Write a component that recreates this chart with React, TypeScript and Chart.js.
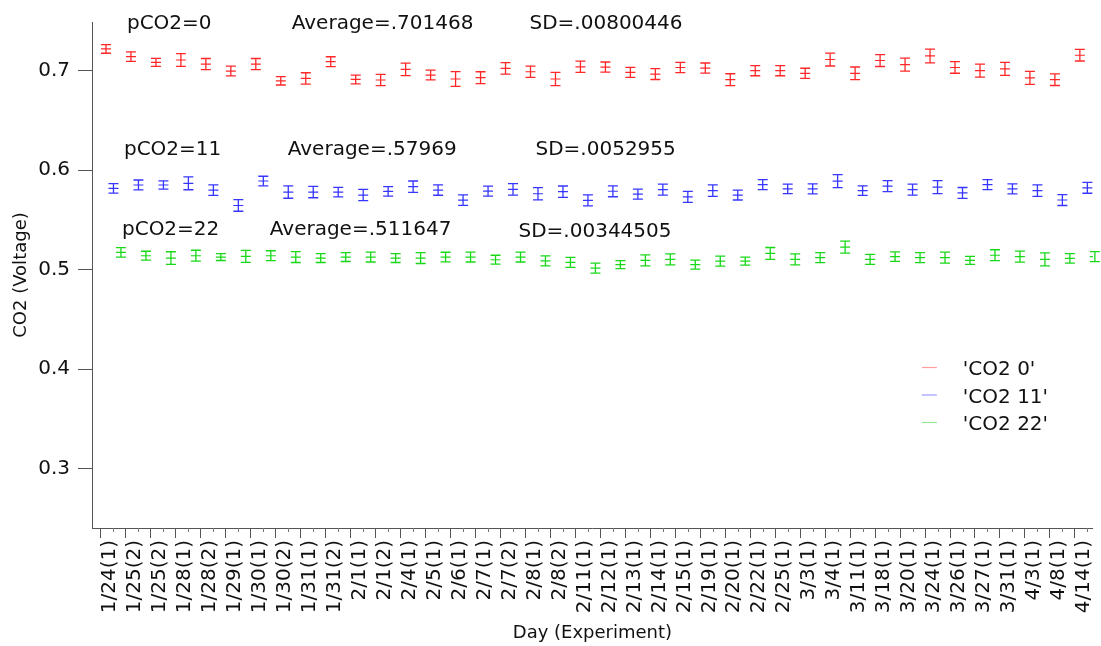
import React, { useEffect, useRef } from 'react';
import { Chart, registerables } from 'chart.js';

Chart.register(...registerables);

const FONT = '"DejaVu Sans", "Liberation Sans", sans-serif';

// ---- data ----
const categories = [
  '1/24(1)', '1/25(2)', '1/25(2)', '1/28(1)', '1/28(2)', '1/29(1)', '1/30(1)', '1/30(2)', '1/31(1)', '1/31(2)',
  '2/1(1)', '2/1(2)', '2/4(1)', '2/5(1)', '2/6(1)', '2/7(1)', '2/7(2)', '2/8(1)', '2/8(2)', '2/11(1)',
  '2/12(1)', '2/13(1)', '2/14(1)', '2/15(1)', '2/19(1)', '2/20(1)', '2/22(1)', '2/25(1)', '3/3(1)', '3/4(1)',
  '3/11(1)', '3/18(1)', '3/20(1)', '3/24(1)', '3/26(1)', '3/27(1)', '3/31(1)', '4/3(1)', '4/8(1)', '4/14(1)',
];

const co2_0 = [
  0.7219, 0.7142, 0.7085, 0.7108, 0.7067, 0.6997, 0.7067, 0.6899, 0.6923, 0.7091,
  0.6913, 0.6907, 0.7014, 0.6957, 0.6917, 0.6930, 0.7024, 0.6990, 0.6917, 0.7040,
  0.7037, 0.6984, 0.6967, 0.7033, 0.7027, 0.6910, 0.7001, 0.7001, 0.6974, 0.7113,
  0.6974, 0.7103, 0.7061, 0.7149, 0.7033, 0.7001, 0.7019, 0.6928, 0.6910, 0.7156,
];
const co2_0_err = [
  0.0043, 0.0047, 0.0040, 0.0064, 0.0056, 0.0049, 0.0056, 0.0042, 0.0057, 0.0050,
  0.0044, 0.0057, 0.0062, 0.0049, 0.0074, 0.0060, 0.0057, 0.0057, 0.0066, 0.0057,
  0.0051, 0.0051, 0.0055, 0.0051, 0.0051, 0.0060, 0.0051, 0.0051, 0.0051, 0.0065,
  0.0064, 0.0060, 0.0065, 0.0069, 0.0058, 0.0065, 0.0065, 0.0065, 0.0058, 0.0058,
];

const co2_11 = [
  0.5818, 0.5852, 0.5852, 0.5869, 0.5801, 0.5646, 0.5892, 0.5781, 0.5781, 0.5781,
  0.5751, 0.5788, 0.5835, 0.5801, 0.5700, 0.5791, 0.5808, 0.5764, 0.5785, 0.5698,
  0.5789, 0.5761, 0.5806, 0.5733, 0.5796, 0.5751, 0.5856, 0.5813, 0.5813, 0.5891,
  0.5796, 0.5841, 0.5806, 0.5831, 0.5772, 0.5856, 0.5813, 0.5796, 0.5701, 0.5824,
];
const co2_11_err = [
  0.0048, 0.0050, 0.0042, 0.0065, 0.0053, 0.0058, 0.0048, 0.0062, 0.0057, 0.0048,
  0.0057, 0.0048, 0.0057, 0.0052, 0.0052, 0.0050, 0.0057, 0.0062, 0.0057, 0.0055,
  0.0055, 0.0050, 0.0055, 0.0055, 0.0058, 0.0050, 0.0050, 0.0048, 0.0050, 0.0065,
  0.0048, 0.0055, 0.0055, 0.0065, 0.0055, 0.0050, 0.0050, 0.0058, 0.0055, 0.0055,
];

const co2_22 = [
  0.5175, 0.5141, 0.5118, 0.5141, 0.5128, 0.5135, 0.5141, 0.5128, 0.5118, 0.5128,
  0.5128, 0.5118, 0.5118, 0.5128, 0.5128, 0.5101, 0.5128, 0.5090, 0.5075, 0.5017,
  0.5052, 0.5094, 0.5104, 0.5052, 0.5087, 0.5087, 0.5164, 0.5104, 0.5122, 0.5227,
  0.5104, 0.5132, 0.5122, 0.5122, 0.5094, 0.5146, 0.5132, 0.5104, 0.5115, 0.5132,
];
const co2_22_err = [
  0.0048, 0.0045, 0.0063, 0.0055, 0.0035, 0.0060, 0.0050, 0.0055, 0.0045, 0.0045,
  0.0050, 0.0045, 0.0055, 0.0048, 0.0050, 0.0045, 0.0050, 0.0050, 0.0050, 0.0050,
  0.0040, 0.0055, 0.0055, 0.0045, 0.0050, 0.0040, 0.0060, 0.0055, 0.0050, 0.0060,
  0.0050, 0.0048, 0.0050, 0.0055, 0.0040, 0.0055, 0.0055, 0.0065, 0.0048, 0.0050,
];

const seriesLabels = ["'CO2 0'", "'CO2 11'", "'CO2 22'"];
const groupNames = ['pCO2=0', 'pCO2=11', 'pCO2=22'];
const groupAverages = ['Average=.701468', 'Average=.57969', 'Average=.511647'];
const groupSDs = ['SD=.00800446', 'SD=.0052955', 'SD=.00344505'];
const yTicks = [0.3, 0.4, 0.5, 0.6, 0.7];

// ---- styles / layout ----
const seriesColors = ['#ff2828', '#3636ff', '#18d818'];
const legendColors = ['#ff9c9c', '#9c9cff', '#96e496'];
const seriesOffsets = [0.2, 0.5, 0.8];
// annotation anchors in data space: [x (category units), baseline y (value)]
const annotationLayout = [
  { y: [0.742, 0.742, 0.742], x: [1.04, 7.64, 17.16] },
  { y: [0.6152, 0.6152, 0.6152], x: [0.92, 7.48, 17.4] },
  { y: [0.5352, 0.5352, 0.5334], x: [0.84, 6.76, 16.72] },
];

const errorBarPlugin = {
  id: 'errorBars',
  afterDatasetsDraw(chart: any) {
    const ctx = chart.ctx;
    const ys = chart.scales.y;
    const xs = chart.scales.x;
    const cap = 5;
    chart.data.datasets.forEach((ds: any) => {
      ctx.save();
      ctx.strokeStyle = ds.borderColor;
      ctx.lineWidth = 1.3;
      ds.data.forEach((p: any, i: number) => {
        const e = ds.errors[i];
        const x = xs.getPixelForValue(p.x);
        const top = ys.getPixelForValue(p.y + e);
        const bot = ys.getPixelForValue(p.y - e);
        ctx.beginPath();
        ctx.moveTo(x, top);
        ctx.lineTo(x, bot);
        ctx.moveTo(x - cap, top);
        ctx.lineTo(x + cap, top);
        ctx.moveTo(x - cap, bot);
        ctx.lineTo(x + cap, bot);
        ctx.stroke();
      });
      ctx.restore();
    });
  },
};

const minorTickPlugin = {
  id: 'minorTicks',
  afterDraw(chart: any) {
    const ctx = chart.ctx;
    const xs = chart.scales.x;
    const yb = chart.chartArea.bottom;
    ctx.save();
    ctx.strokeStyle = '#777';
    ctx.lineWidth = 1;
    categories.forEach((_, i) => {
      const x = Math.round(xs.getPixelForValue(i + 0.5)) + 0.5;
      ctx.beginPath();
      ctx.moveTo(x, yb);
      ctx.lineTo(x, yb + 4);
      ctx.stroke();
    });
    ctx.restore();
  },
};

const annotationPlugin = {
  id: 'annotations',
  afterDraw(chart: any) {
    const ctx = chart.ctx;
    const xs = chart.scales.x;
    const ys = chart.scales.y;
    ctx.save();
    ctx.font = `20px ${FONT}`;
    ctx.fillStyle = '#111';
    ctx.textAlign = 'left';
    ctx.textBaseline = 'alphabetic';
    groupNames.forEach((name, r) => {
      const texts = [name, groupAverages[r], groupSDs[r]];
      const lay = annotationLayout[r];
      texts.forEach((t, k) => {
        ctx.fillText(t, xs.getPixelForValue(lay.x[k]), ys.getPixelForValue(lay.y[k]));
      });
    });
    ctx.restore();
  },
};

const legendPlugin = {
  id: 'customLegend',
  afterDraw(chart: any) {
    const ctx = chart.ctx;
    const ca = chart.chartArea;
    ctx.save();
    ctx.font = `20px ${FONT}`;
    ctx.fillStyle = '#111';
    ctx.textAlign = 'left';
    ctx.textBaseline = 'alphabetic';
    seriesLabels.forEach((label, i) => {
      const ly = ca.top + 345 + i * 27.5;
      ctx.strokeStyle = legendColors[i];
      ctx.lineWidth = 1.2;
      ctx.beginPath();
      ctx.moveTo(ca.right - 171, ly + 0.5);
      ctx.lineTo(ca.right - 156, ly + 0.5);
      ctx.stroke();
      ctx.fillText(label, ca.right - 130, ly + 8);
    });
    ctx.restore();
  },
};

const seriesValues = [co2_0, co2_11, co2_22];
const seriesErrors = [co2_0_err, co2_11_err, co2_22_err];

export default function App() {
  const ref = useRef<HTMLCanvasElement>(null);

  useEffect(() => {
    const canvas = ref.current;
    if (!canvas) return;
    const datasets = seriesValues.map((vals, s) => ({
      label: seriesLabels[s],
      data: vals.map((v, i) => ({ x: i + seriesOffsets[s], y: v })),
      errors: seriesErrors[s],
      borderColor: seriesColors[s],
      backgroundColor: seriesColors[s],
      pointStyle: 'line',
      pointRadius: 5,
      pointBorderWidth: 1.2,
      showLine: false,
    }));
    const chart = new Chart(canvas, {
      type: 'scatter',
      data: { datasets } as any,
      plugins: [errorBarPlugin, minorTickPlugin, annotationPlugin, legendPlugin],
      options: {
        responsive: false,
        animation: false,
        devicePixelRatio: 1,
        layout: { padding: { top: 22, right: 7, left: 0, bottom: 0 } },
        plugins: { legend: { display: false }, tooltip: { enabled: false } },
        scales: {
          x: {
            type: 'linear',
            min: -0.36,
            max: 39.72,
            afterBuildTicks: (s: any) => {
              s.ticks = categories.map((_, i) => ({ value: i }));
            },
            afterFit: (s: any) => {
              s.height = 118;
            },
            ticks: {
              autoSkip: false,
              minRotation: 90,
              maxRotation: 90,
              padding: 2,
              labelOffset: 9,
              color: '#111',
              font: { family: FONT, size: 20 },
              callback: (v: any) => categories[Math.round(Number(v))],
            },
            grid: { drawOnChartArea: false, drawTicks: true, tickLength: 10, color: '#555' },
            border: { display: true, color: '#555', width: 1 },
            title: {
              display: true,
              text: 'Day (Experiment)',
              color: '#111',
              font: { family: FONT, size: 18 },
              padding: { top: 0, bottom: 2 },
            },
          },
          y: {
            type: 'linear',
            min: 0.2405,
            max: 0.749,
            afterBuildTicks: (s: any) => {
              s.ticks = yTicks.map((v) => ({ value: v }));
            },
            afterFit: (s: any) => {
              s.width = 92;
            },
            ticks: {
              padding: 8,
              color: '#111',
              font: { family: FONT, size: 20 },
              callback: (v: any) => Number(v).toFixed(1),
            },
            grid: { drawOnChartArea: false, drawTicks: true, tickLength: 14, color: '#555' },
            border: { display: true, color: '#555', width: 1 },
            title: {
              display: true,
              text: 'CO2 (Voltage)',
              color: '#111',
              font: { family: FONT, size: 18 },
              padding: { top: 11, bottom: 0 },
            },
          },
        },
      } as any,
    });
    return () => chart.destroy();
  }, []);

  return (
    <div style={{ position: 'absolute', left: 0, top: 0, width: 1101, height: 646, background: '#fff' }}>
      <canvas ref={ref} width={1101} height={646} style={{ display: 'block', width: 1101, height: 646 }} />
    </div>
  );
}
